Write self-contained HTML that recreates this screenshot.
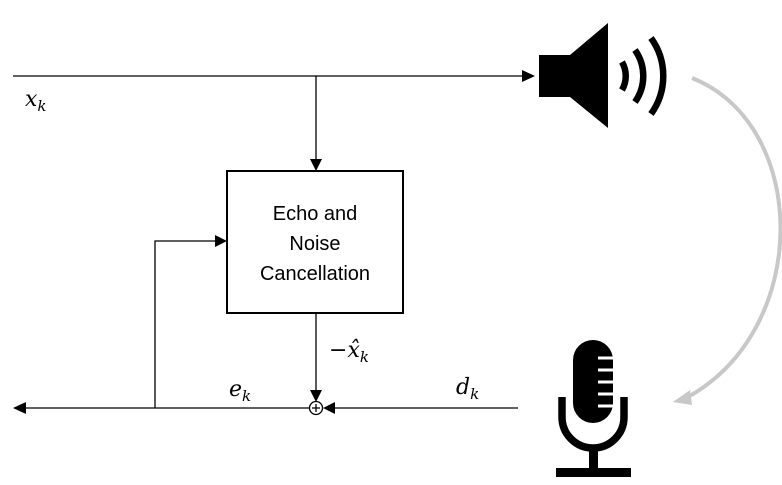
<!DOCTYPE html>
<html><head><meta charset="utf-8"><style>
html,body{margin:0;padding:0;background:#fff;width:782px;height:485px;overflow:hidden}
svg{display:block}
.m{font-family:"DejaVu Serif","Liberation Serif",serif;font-style:italic;font-size:22px;fill:#000}
.s{font-size:15px}
</style></head><body>
<svg width="782" height="485" viewBox="0 0 782 485" xmlns="http://www.w3.org/2000/svg">
<g stroke="#000" stroke-width="1.3" fill="none">
<line x1="13" y1="76" x2="524" y2="76"/>
<line x1="316" y1="76" x2="316" y2="160"/>
<line x1="316" y1="313" x2="316" y2="392"/>
<line x1="518" y1="408" x2="333" y2="408"/>
<line x1="310" y1="408" x2="25" y2="408"/>
<polyline points="155,408 155,241 216,241"/>
<circle cx="316" cy="408" r="6.5"/>
<line x1="312" y1="408" x2="320" y2="408"/>
<line x1="316" y1="404" x2="316" y2="412"/>
</g>
<g fill="#000">
<polygon points="535,76 522,70 522,82"/>
<polygon points="316,171 310,159 322,159"/>
<polygon points="227,241 215,235 215,247"/>
<polygon points="316,402 310,390 322,390"/>
<polygon points="323,408 335,402 335,414"/>
<polygon points="13,408 26,402 26,414"/>
</g>
<rect x="227" y="171" width="176" height="142" fill="#fff" stroke="#000" stroke-width="2"/>
<g font-family="Liberation Sans, Arial, sans-serif" font-size="20" text-anchor="middle" fill="#000">
<text x="315" y="220">Echo and</text>
<text x="315" y="250">Noise</text>
<text x="315" y="280">Cancellation</text>
</g>
<text class="m" x="25" y="106">x<tspan class="s" dy="5">k</tspan></text>
<text class="m" x="229" y="396">e<tspan class="s" dy="5">k</tspan></text>
<text class="m" x="456" y="394">d<tspan class="s" dy="5">k</tspan></text>
<text class="m" x="329" y="357"><tspan font-style="normal">−</tspan>x̂<tspan class="s" dy="5">k</tspan></text>
<!-- speaker -->
<polygon points="539,55 570,55 608,23 608,128 570,97 539,97" fill="#000"/>
<g fill="none" stroke="#000" stroke-width="6.5">
<path d="M622,62 A28,28 0 0 1 622,90"/>
<path d="M635,50 A45,45 0 0 1 635,102"/>
<path d="M651,38 A65,65 0 0 1 651,114"/>
</g>
<!-- gray arc -->
<path d="M692,78 C810,125 812,330 686,398" fill="none" stroke="#c8c8c8" stroke-width="4"/>
<polygon points="673,402 690,390 692,405" fill="#c8c8c8"/>
<!-- mic -->
<rect x="573" y="340" width="40" height="83" rx="20" fill="#000"/>
<g stroke="#fff" stroke-width="3">
<line x1="598" y1="358" x2="614" y2="358"/>
<line x1="598" y1="370" x2="614" y2="370"/>
<line x1="598" y1="382" x2="614" y2="382"/>
<line x1="598" y1="394" x2="614" y2="394"/>
<line x1="598" y1="406" x2="614" y2="406"/>
</g>
<path d="M562,397 L562,417 A31,31 0 0 0 624,417 L624,397" fill="none" stroke="#000" stroke-width="7.5"/>
<rect x="589" y="447" width="9" height="23" fill="#000"/>
<rect x="556" y="468" width="75" height="9" fill="#000"/>
</svg>
</body></html>
